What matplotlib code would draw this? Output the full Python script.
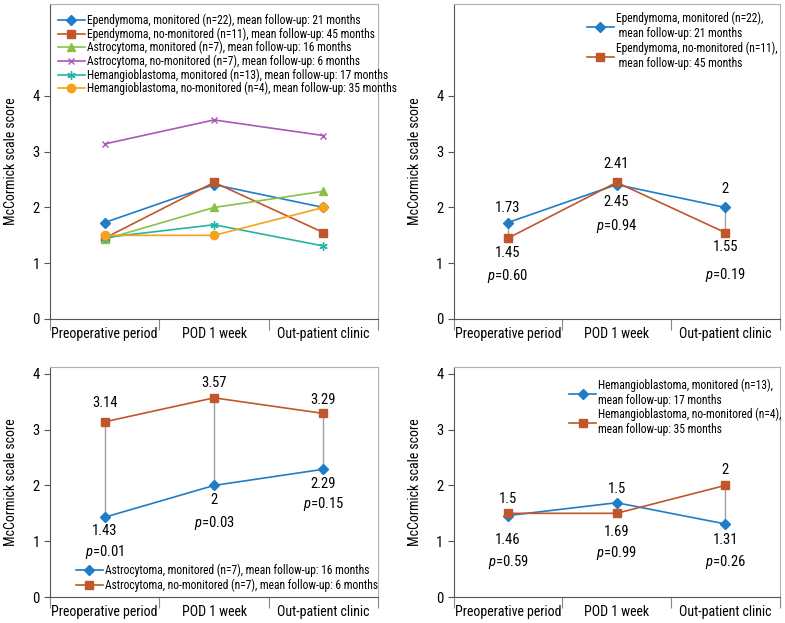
import matplotlib
matplotlib.use('Agg')
import matplotlib.pyplot as plt

FONT = 'Roboto Condensed'
plt.rcParams['font.family'] = [FONT, 'Liberation Sans', 'DejaVu Sans']
plt.rcParams['mathtext.fontset'] = 'custom'
plt.rcParams['mathtext.it'] = FONT + ':italic'
plt.rcParams['mathtext.rm'] = FONT

categories = ['Preoperative period', 'POD 1 week', 'Out-patient clinic']

epen_mon = [1.73, 2.41, 2.0]
epen_non = [1.45, 2.45, 1.55]
astro_mon = [1.43, 2.0, 2.29]
astro_non = [3.14, 3.57, 3.29]
hemang_mon = [1.46, 1.69, 1.31]
hemang_non = [1.5, 1.5, 2.0]

lab_epen_mon = 'Ependymoma, monitored (n=22), mean follow-up: 21 months'
lab_epen_non = 'Ependymoma, no-monitored (n=11), mean follow-up: 45 months'
lab_astro_mon = 'Astrocytoma, monitored (n=7), mean follow-up: 16 months'
lab_astro_non = 'Astrocytoma, no-monitored (n=7), mean follow-up: 6 months'
lab_hem_mon = 'Hemangioblastoma, monitored (n=13), mean follow-up: 17 months'
lab_hem_non = 'Hemangioblastoma, no-monitored (n=4), mean follow-up: 35 months'

# value labels per panel: (text, category index, y position)
epen_texts = [('1.73', 0, 1.99), ('1.45', 0, 1.18), ('$p$=0.60', 0, 0.77),
              ('2.41', 1, 2.78), ('2.45', 1, 2.10), ('$p$=0.94', 1, 1.67),
              ('2', 2, 2.33), ('1.55', 2, 1.29), ('$p$=0.19', 2, 0.79)]
astro_texts = [('3.14', 0, 3.47), ('1.43', 0, 1.18), ('$p$=0.01', 0, 0.81),
               ('3.57', 1, 3.84), ('2', 1, 1.73), ('$p$=0.03', 1, 1.33),
               ('3.29', 2, 3.53), ('2.29', 2, 2.02), ('$p$=0.15', 2, 1.66)]
hem_texts = [('1.5', 0, 1.75), ('1.46', 0, 1.02), ('$p$=0.59', 0, 0.62),
             ('1.5', 1, 1.94), ('1.69', 1, 1.16), ('$p$=0.99', 1, 0.78),
             ('2', 2, 2.27), ('1.31', 2, 1.03), ('$p$=0.26', 2, 0.63)]

BLUE = '#1f7cc7'
BROWN = '#c0562b'
GREEN = '#8cbf45'
PURPLE = '#a759b5'
TEAL = '#25b3a3'
ORANGE = '#f7a21b'

fig = plt.figure(figsize=(7.85, 6.23), dpi=100)
ax_tl = fig.add_axes([0.0637, 0.488, 0.418, 0.5056])
ax_tr = fig.add_axes([0.578, 0.488, 0.415, 0.5056])
ax_bl = fig.add_axes([0.0637, 0.0417, 0.418, 0.369])
ax_br = fig.add_axes([0.578, 0.0417, 0.415, 0.369])

xs = [0.5, 1.5, 2.5]


def style(ax, ytop):
    ax.set_xlim(0, 3)
    ax.set_ylim(0, ytop)
    ax.set_yticks([0, 1, 2, 3, 4])
    ax.set_xticks([0, 1, 2, 3])
    ax.set_xticklabels([])
    ax.set_xticks(xs, minor=True)
    ax.set_xticklabels(categories, minor=True, fontsize=10)
    ax.tick_params(axis='x', which='major', length=8, color='#888888')
    ax.tick_params(axis='x', which='minor', length=0, pad=6)
    ax.tick_params(axis='y', length=4, labelsize=10.5, color='#555555')
    for s in ['top', 'right']:
        ax.spines[s].set_color('#b0b0b0')
    for s in ['left', 'bottom']:
        ax.spines[s].set_color('#555555')
    ax.set_ylabel('McCormick scale score', fontsize=10, labelpad=10)


def pair(ax, a, b):
    for x, ya, yb in zip(xs, a, b):
        ax.plot([x, x], [ya, yb], color='#a0a0a0', lw=1, zorder=1)


def texts(ax, items):
    for t, i, y in items:
        ax.text(xs[i], y, t, ha='center', va='center', fontsize=10.5)


leg_kw = dict(frameon=False, fontsize=8.3, handlelength=2.3, handletextpad=0.2,
              borderaxespad=0.3)

# top-left: all groups
style(ax_tl, 5.65)
ax_tl.plot(xs, epen_mon, color=BLUE, marker='D', ms=5, lw=1.2, label=lab_epen_mon)
ax_tl.plot(xs, epen_non, color=BROWN, marker='s', ms=5.5, lw=1.2, label=lab_epen_non)
ax_tl.plot(xs, astro_mon, color=GREEN, marker='^', ms=6, lw=1.2, label=lab_astro_mon)
ax_tl.plot(xs, astro_non, color=PURPLE, marker='x', ms=5, lw=1.2, label=lab_astro_non)
ax_tl.plot(xs, hemang_mon, color=TEAL, marker=(6, 2, 0), ms=6, lw=1.2, label=lab_hem_mon)
ax_tl.plot(xs, hemang_non, color=ORANGE, marker='o', ms=6, lw=1.2, label=lab_hem_non)
ax_tl.legend(loc='upper left', bbox_to_anchor=(0.0, 0.995), labelspacing=0.02, **leg_kw)

# top-right: ependymoma
style(ax_tr, 5.65)
pair(ax_tr, epen_mon, epen_non)
ax_tr.plot(xs, epen_mon, color=BLUE, marker='D', ms=5, lw=1.2,
           label='Ependymoma, monitored (n=22),\n mean follow-up: 21 months')
ax_tr.plot(xs, epen_non, color=BROWN, marker='s', ms=5.5, lw=1.2,
           label='Ependymoma, no-monitored (n=11),\n mean follow-up: 45 months')
texts(ax_tr, epen_texts)
ax_tr.legend(loc='upper left', bbox_to_anchor=(0.385, 1.0), labelspacing=0.1, **leg_kw)

# bottom-left: astrocytoma
style(ax_bl, 4.12)
pair(ax_bl, astro_mon, astro_non)
ax_bl.plot(xs, astro_mon, color=BLUE, marker='D', ms=5, lw=1.2, label=lab_astro_mon)
ax_bl.plot(xs, astro_non, color=BROWN, marker='s', ms=5.5, lw=1.2, label=lab_astro_non)
texts(ax_bl, astro_texts)
ax_bl.legend(loc='lower left', bbox_to_anchor=(0.055, -0.015), labelspacing=0.15, **leg_kw)

# bottom-right: hemangioblastoma
style(ax_br, 4.12)
pair(ax_br, hemang_mon, hemang_non)
ax_br.plot(xs, hemang_mon, color=BLUE, marker='D', ms=5, lw=1.2,
           label='Hemangioblastoma, monitored (n=13),\nmean follow-up: 17 months')
ax_br.plot(xs, hemang_non, color=BROWN, marker='s', ms=5.5, lw=1.2,
           label='Hemangioblastoma, no-monitored (n=4),\nmean follow-up: 35 months')
texts(ax_br, hem_texts)
ax_br.legend(loc='upper left', bbox_to_anchor=(0.33, 0.985), labelspacing=0.05, **leg_kw)

fig.savefig('out.png', dpi=100)
